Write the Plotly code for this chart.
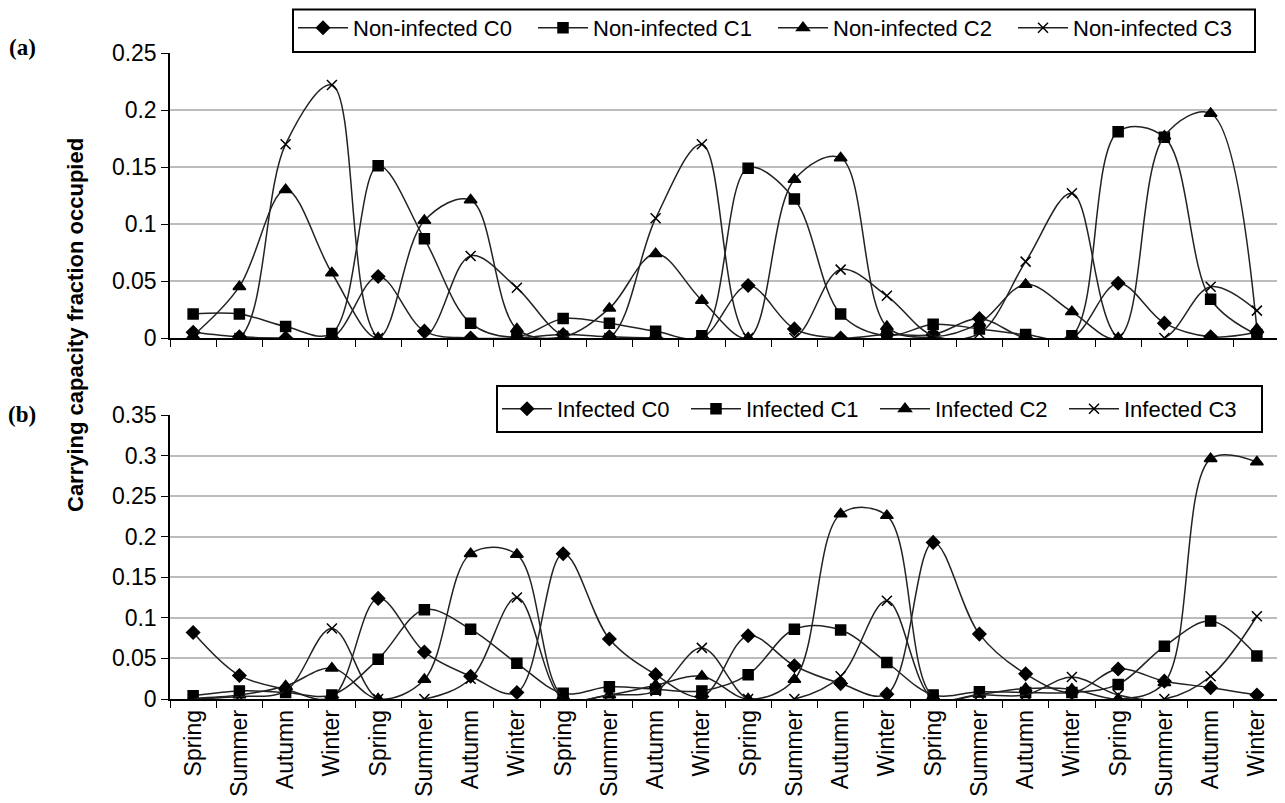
import plotly.graph_objects as go

seasons = ["Spring", "Summer", "Autumn", "Winter"] * 6
cats = [f"{s}{i // 4}" for i, s in enumerate(seasons)]

# Panel (a): non-infected
a_c0 = [0.005, 0.001, 0.0, 0.0, 0.054, 0.006, 0.0, 0.0, 0.003, 0.001, 0.0, 0.0,
        0.046, 0.008, 0.0, 0.003, 0.003, 0.017, 0.0, 0.0, 0.048, 0.013, 0.001, 0.005]
a_c1 = [0.021, 0.021, 0.010, 0.004, 0.151, 0.087, 0.013, 0.001, 0.017, 0.013, 0.006, 0.002,
        0.149, 0.122, 0.021, 0.002, 0.012, 0.008, 0.003, 0.002, 0.181, 0.176, 0.034, 0.003]
a_c2 = [0.002, 0.045, 0.130, 0.057, 0.0, 0.103, 0.121, 0.008, 0.001, 0.026, 0.074, 0.033,
        0.0, 0.139, 0.158, 0.010, 0.001, 0.013, 0.047, 0.023, 0.0, 0.177, 0.197, 0.008]
a_c3 = [0.0, 0.0, 0.170, 0.222, 0.0, 0.0, 0.072, 0.044, 0.002, 0.0, 0.105, 0.170,
        0.0, 0.0, 0.060, 0.037, 0.002, 0.004, 0.067, 0.127, 0.0, 0.0, 0.045, 0.024]

# Panel (b): infected
b_c0 = [0.082, 0.029, 0.012, 0.002, 0.124, 0.058, 0.028, 0.008, 0.179, 0.074, 0.030, 0.003,
        0.078, 0.041, 0.019, 0.006, 0.193, 0.080, 0.031, 0.008, 0.037, 0.022, 0.014, 0.005]
b_c1 = [0.004, 0.010, 0.008, 0.005, 0.049, 0.110, 0.086, 0.044, 0.007, 0.015, 0.012, 0.010,
        0.030, 0.086, 0.085, 0.045, 0.005, 0.009, 0.008, 0.008, 0.018, 0.065, 0.096, 0.053]
b_c2 = [0.001, 0.005, 0.016, 0.038, 0.0, 0.024, 0.179, 0.178, 0.003, 0.005, 0.017, 0.028,
        0.0, 0.024, 0.228, 0.226, 0.003, 0.006, 0.013, 0.012, 0.0, 0.020, 0.296, 0.292]
b_c3 = [0.0, 0.003, 0.010, 0.087, 0.0, 0.0, 0.025, 0.125, 0.0, 0.005, 0.010, 0.063,
        0.0, 0.0, 0.028, 0.121, 0.0, 0.005, 0.005, 0.027, 0.005, 0.0, 0.028, 0.102]

names_a = ["Non-infected C0", "Non-infected C1", "Non-infected C2", "Non-infected C3"]
names_b = ["Infected C0", "Infected C1", "Infected C2", "Infected C3"]
symbols = ["diamond", "square", "triangle-up", "x-thin-open"]
sizes = [10, 10, 11, 10]

W, H = 1285, 803
OFF = 8  # default page body margin
FONT = "Liberation Sans, Arial, sans-serif"
SERIF = "Liberation Serif, Times New Roman, serif"

def px_x(p):
    return (p - OFF) / W

def px_y(p):
    return 1 - (p - OFF) / H

fig = go.Figure()

for vals, name, sym, sz in zip([a_c0, a_c1, a_c2, a_c3], names_a, symbols, sizes):
    fig.add_trace(go.Scatter(
        x=cats, y=vals, name=name, mode="lines+markers",
        line=dict(color="#222222", width=1.5, shape="spline", smoothing=1.0),
        marker=dict(symbol=sym, size=sz, color="black",
                    line=dict(color="black", width=1.5)),
        xaxis="x", yaxis="y", legend="legend"))

for vals, name, sym, sz in zip([b_c0, b_c1, b_c2, b_c3], names_b, symbols, sizes):
    fig.add_trace(go.Scatter(
        x=cats, y=vals, name=name, mode="lines+markers",
        line=dict(color="#222222", width=1.5, shape="spline", smoothing=1.0),
        marker=dict(symbol=sym, size=sz, color="black",
                    line=dict(color="black", width=1.5)),
        xaxis="x2", yaxis="y2", legend="legend2"))

xdom = [px_x(170), px_x(1280)]
common_x = dict(type="category", domain=xdom, showline=True, linecolor="black",
                linewidth=1.5, ticks="outside", ticklen=7, tickcolor="black",
                tickson="boundaries", showgrid=False, zeroline=False,
                range=[-0.5, 23.5], fixedrange=True, automargin=False)
common_y = dict(showline=True, linecolor="black", linewidth=1.5, ticks="outside",
                ticklen=7, tickcolor="black", showgrid=True, gridcolor="#bcbcbc",
                gridwidth=1.5, zeroline=False, tickfont=dict(size=23, family=FONT, color="black"),
                fixedrange=True, automargin=False)

fig.update_layout(
    width=W, height=H,
    margin=dict(l=0, r=0, t=0, b=0, autoexpand=False),
    paper_bgcolor="white", plot_bgcolor="white",
    font=dict(family=FONT, color="black"),
    xaxis=dict(**common_x, anchor="y", showticklabels=False,
               tickvals=cats, ticktext=seasons),
    xaxis2=dict(**common_x, anchor="y2", showticklabels=True, tickangle=-90,
                tickvals=cats, ticktext=seasons,
                tickfont=dict(size=23, family=FONT, color="black")),
    yaxis=dict(**common_y, domain=[px_y(338), px_y(53)], range=[0, 0.25],
               dtick=0.05, anchor="x"),
    yaxis2=dict(**common_y, domain=[px_y(699), px_y(415)], range=[0, 0.35],
                dtick=0.05, anchor="x2"),
    legend=dict(orientation="h", x=px_x(293), y=px_y(28), xanchor="left", yanchor="middle",
                borderwidth=0, bgcolor="rgba(0,0,0,0)",
                font=dict(size=22, family=FONT), entrywidth=175, itemwidth=50,
                tracegroupgap=0),
    legend2=dict(orientation="h", x=px_x(497), y=px_y(409), xanchor="left", yanchor="middle",
                 borderwidth=0, bgcolor="rgba(0,0,0,0)",
                 font=dict(size=22, family=FONT), entrywidth=124, itemwidth=50,
                 tracegroupgap=0),
    showlegend=True,
)

# grey right border of each plot area
for xr, yr in [("x domain", "y domain"), ("x2 domain", "y2 domain")]:
    fig.add_shape(type="line", xref=xr, yref=yr, x0=1, x1=1, y0=0, y1=1,
                  line=dict(color="#9a9a9a", width=1.5))

# legend frames
fig.add_shape(type="rect", xref="paper", yref="paper",
              x0=px_x(293), x1=px_x(1255), y0=px_y(52), y1=px_y(9.5),
              line=dict(color="black", width=2), fillcolor="white", layer="above")
fig.add_shape(type="rect", xref="paper", yref="paper",
              x0=px_x(497), x1=px_x(1262), y0=px_y(432), y1=px_y(386),
              line=dict(color="black", width=2), fillcolor="white", layer="above")

fig.add_annotation(text="<b>Carrying capacity fraction occupied</b>", textangle=-90,
                   x=px_x(75), y=px_y(325), xref="paper", yref="paper",
                   xanchor="center", yanchor="middle",
                   showarrow=False, font=dict(size=22, family=FONT, color="black"))
fig.add_annotation(text="<b>(a)</b>", x=px_x(22), y=px_y(48), xref="paper", yref="paper",
                   xanchor="center", yanchor="middle",
                   showarrow=False, font=dict(size=23, family=SERIF))
fig.add_annotation(text="<b>(b)</b>", x=px_x(22), y=px_y(414), xref="paper", yref="paper",
                   xanchor="center", yanchor="middle",
                   showarrow=False, font=dict(size=23, family=SERIF))

fig.write_html("out.html")
